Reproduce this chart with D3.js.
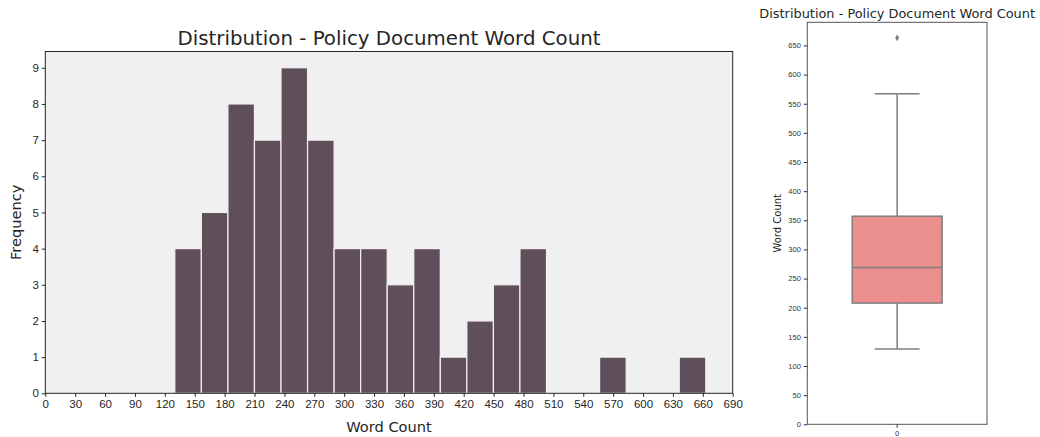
<!DOCTYPE html>
<html>
<head>
<meta charset="utf-8">
<script src="https://cdn.jsdelivr.net/npm/d3@7/dist/d3.min.js"></script>
<style>
  html, body { margin: 0; padding: 0; background: #ffffff; }
  svg { display: block; font-family: "DejaVu Sans", sans-serif; }
</style>
</head>
<body>
<svg id="chart" width="1040" height="437"></svg>
<script>
// Histogram of word counts: 20 equal bins between the shortest and longest document
const wordCountMin = 130;
const wordCountMax = 663;
const binCounts = [4, 5, 8, 7, 9, 7, 4, 4, 3, 4, 1, 2, 3, 4, 0, 0, 1, 0, 0, 1];
const histXTicks = d3.range(0, 691, 30);
const histYTicks = [0, 1, 2, 3, 4, 5, 6, 7, 8, 9];

// Box plot summary of the same word counts
const boxCategories = ["0"];
const boxWhiskerLow = [129];
const boxQ1 = [208];
const boxMedian = [269];
const boxQ3 = [357];
const boxWhiskerHigh = [567];
const boxOutliers = [663];
const boxYTicks = [0, 50, 100, 150, 200, 250, 300, 350, 400, 450, 500, 550, 600, 650];

const title = "Distribution - Policy Document Word Count";
const svg = d3.select("#chart");

// ---------- Histogram ----------
const H = { left: 45.3, right: 732.7, top: 51.5, bottom: 393.3 };
const hx = d3.scaleLinear().domain([0, 690]).range([H.left, H.right]);
const hy = d3.scaleLinear().domain([0, 9.45]).range([H.bottom, H.top]);

const hist = svg.append("g");
hist.append("rect")
  .attr("x", H.left).attr("y", H.top)
  .attr("width", H.right - H.left).attr("height", H.bottom - H.top)
  .attr("fill", "#f0f0f0");

const binWidth = (wordCountMax - wordCountMin) / binCounts.length;
hist.append("g").selectAll("rect")
  .data(binCounts)
  .join("rect")
  .attr("x", (d, i) => hx(wordCountMin + i * binWidth))
  .attr("width", (d, i) => hx(wordCountMin + (i + 1) * binWidth) - hx(wordCountMin + i * binWidth))
  .attr("y", d => hy(d))
  .attr("height", d => hy(0) - hy(d))
  .attr("fill", "#5f4f5a")
  .attr("stroke", "#f4f0f2")
  .attr("stroke-width", 1.2);

// spines
hist.append("rect")
  .attr("x", H.left).attr("y", H.top)
  .attr("width", H.right - H.left).attr("height", H.bottom - H.top)
  .attr("fill", "none").attr("stroke", "#262626").attr("stroke-width", 1);

const hxAxis = hist.append("g")
  .attr("transform", `translate(0,${H.bottom})`)
  .call(d3.axisBottom(hx).tickValues(histXTicks).tickSize(3.5).tickPadding(3).tickFormat(d3.format("d")));
const hyAxis = hist.append("g")
  .attr("transform", `translate(${H.left},0)`)
  .call(d3.axisLeft(hy).tickValues(histYTicks).tickSize(3.5).tickPadding(3).tickFormat(d3.format("d")));
[hxAxis, hyAxis].forEach(a => {
  a.select(".domain").remove();
  a.selectAll("line").attr("stroke", "#262626");
  a.selectAll("text").attr("fill", "#262626").style("font-size", "11.5px");
});

hist.append("text")
  .attr("x", (H.left + H.right) / 2).attr("y", 44.5)
  .attr("text-anchor", "middle").attr("fill", "#262626")
  .style("font-size", "19.8px").text(title);
hist.append("text")
  .attr("x", (H.left + H.right) / 2).attr("y", 432)
  .attr("text-anchor", "middle").attr("fill", "#262626")
  .style("font-size", "14.6px").text("Word Count");
hist.append("text")
  .attr("transform", `translate(20.5,${(H.top + H.bottom) / 2}) rotate(-90)`)
  .attr("text-anchor", "middle").attr("fill", "#262626")
  .style("font-size", "14.6px").text("Frequency");

// ---------- Box plot ----------
const B = { left: 807.3, right: 987, top: 22.3, bottom: 424.3 };
const bx = d3.scaleBand().domain(boxCategories).range([B.left, B.right]).paddingInner(0).paddingOuter(0);
const by = d3.scaleLinear().domain([0, 689.7]).range([B.bottom, B.top]);
const boxLine = "#7f7f7f";

const box = svg.append("g");
box.append("rect")
  .attr("x", B.left).attr("y", B.top)
  .attr("width", B.right - B.left).attr("height", B.bottom - B.top)
  .attr("fill", "#ffffff");

boxCategories.forEach((cat, i) => {
  const cx = bx(cat) + bx.bandwidth() / 2;
  const halfBox = bx.bandwidth() * 0.25;
  const halfCap = bx.bandwidth() * 0.125;
  const g = box.append("g");
  // whiskers
  g.append("line").attr("x1", cx).attr("x2", cx)
    .attr("y1", by(boxQ3[i])).attr("y2", by(boxWhiskerHigh[i]))
    .attr("stroke", boxLine).attr("stroke-width", 1.5);
  g.append("line").attr("x1", cx).attr("x2", cx)
    .attr("y1", by(boxQ1[i])).attr("y2", by(boxWhiskerLow[i]))
    .attr("stroke", boxLine).attr("stroke-width", 1.5);
  // caps
  [boxWhiskerHigh[i], boxWhiskerLow[i]].forEach(v => {
    g.append("line").attr("x1", cx - halfCap).attr("x2", cx + halfCap)
      .attr("y1", by(v)).attr("y2", by(v))
      .attr("stroke", boxLine).attr("stroke-width", 1.5);
  });
  // box
  g.append("rect")
    .attr("x", cx - halfBox).attr("width", halfBox * 2)
    .attr("y", by(boxQ3[i])).attr("height", by(boxQ1[i]) - by(boxQ3[i]))
    .attr("fill", "#eb8e8e").attr("stroke", boxLine).attr("stroke-width", 1.5);
  // median
  g.append("line").attr("x1", cx - halfBox).attr("x2", cx + halfBox)
    .attr("y1", by(boxMedian[i])).attr("y2", by(boxMedian[i]))
    .attr("stroke", boxLine).attr("stroke-width", 1.5);
  // outliers
  g.selectAll("path.outlier").data(boxOutliers).join("path")
    .attr("class", "outlier")
    .attr("transform", d => `translate(${cx},${by(d)})`)
    .attr("d", d3.symbol(d3.symbolDiamond, 14))
    .attr("fill", boxLine);
});

box.append("rect")
  .attr("x", B.left).attr("y", B.top)
  .attr("width", B.right - B.left).attr("height", B.bottom - B.top)
  .attr("fill", "none").attr("stroke", "#555555").attr("stroke-width", 1);

const bxAxis = box.append("g")
  .attr("transform", `translate(0,${B.bottom})`)
  .call(d3.axisBottom(bx).tickSize(3.5).tickPadding(3));
const byAxis = box.append("g")
  .attr("transform", `translate(${B.left},0)`)
  .call(d3.axisLeft(by).tickValues(boxYTicks).tickSize(3.5).tickPadding(3).tickFormat(d3.format("d")));
[bxAxis, byAxis].forEach(a => {
  a.select(".domain").remove();
  a.selectAll("line").attr("stroke", "#333333");
  a.selectAll("text").attr("fill", "#333333").style("font-size", "7.5px");
});

box.append("text")
  .attr("x", (B.left + B.right) / 2).attr("y", 18)
  .attr("text-anchor", "middle").attr("fill", "#262626")
  .style("font-size", "12.9px").text(title);
box.append("text")
  .attr("transform", `translate(781,${(B.top + B.bottom) / 2}) rotate(-90)`)
  .attr("text-anchor", "middle").attr("fill", "#262626")
  .style("font-size", "10px").text("Word Count");
</script>
</body>
</html>
